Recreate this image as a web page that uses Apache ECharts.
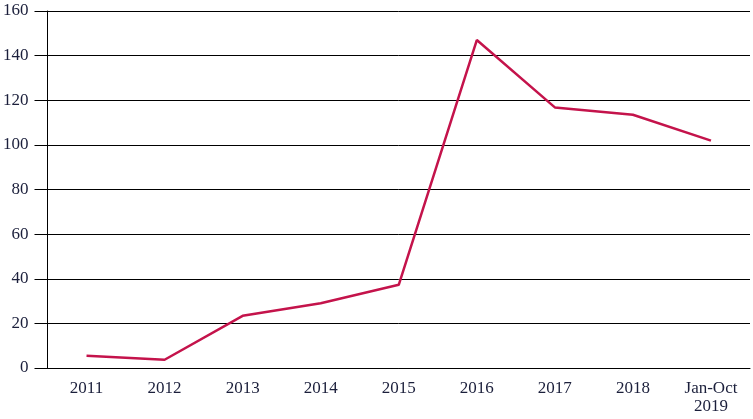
<!DOCTYPE html>
<html><head><meta charset="utf-8">
<script src="https://cdn.jsdelivr.net/npm/echarts@6/dist/echarts.min.js"></script>
<style>html,body{margin:0;padding:0;background:#fff}#c{width:753px;height:419px}</style>
</head><body><div id="c"></div>
<script>
const categories = ['2011','2012','2013','2014','2015','2016','2017','2018','Jan-Oct\n2019'];
const values = [5.5, 3.7, 23.4, 29.0, 37.3, 147.0, 116.8, 113.5, 101.9];
const yTicks = {min: 0, max: 160, interval: 20};
const chart = echarts.init(document.getElementById('c'));
const txt = {color: '#1b1f3b', fontFamily: 'Liberation Serif', fontSize: 17};
chart.setOption({
  animation: false,
  grid: {left: 47, right: 3, top: 11, bottom: 51},
  xAxis: {
    type: 'category', data: categories, boundaryGap: true,
    axisLine: {lineStyle: {color: '#000', width: 1}},
    axisTick: {length: 13, lineStyle: {color: '#000'}},
    axisLabel: Object.assign({margin: 12, lineHeight: 18, interval: 0}, txt)
  },
  yAxis: {
    type: 'value', min: yTicks.min, max: yTicks.max, interval: yTicks.interval,
    axisLine: {show: true, lineStyle: {color: '#000', width: 1}},
    axisTick: {show: true, length: 13, lineStyle: {color: '#000'}},
    splitLine: {lineStyle: {color: '#000', width: 1}},
    axisLabel: Object.assign({margin: 19}, txt)
  },
  series: [{
    type: 'line', data: values, symbol: 'none',
    lineStyle: {color: '#c4134b', width: 2.5}
  }]
});
</script></body></html>
